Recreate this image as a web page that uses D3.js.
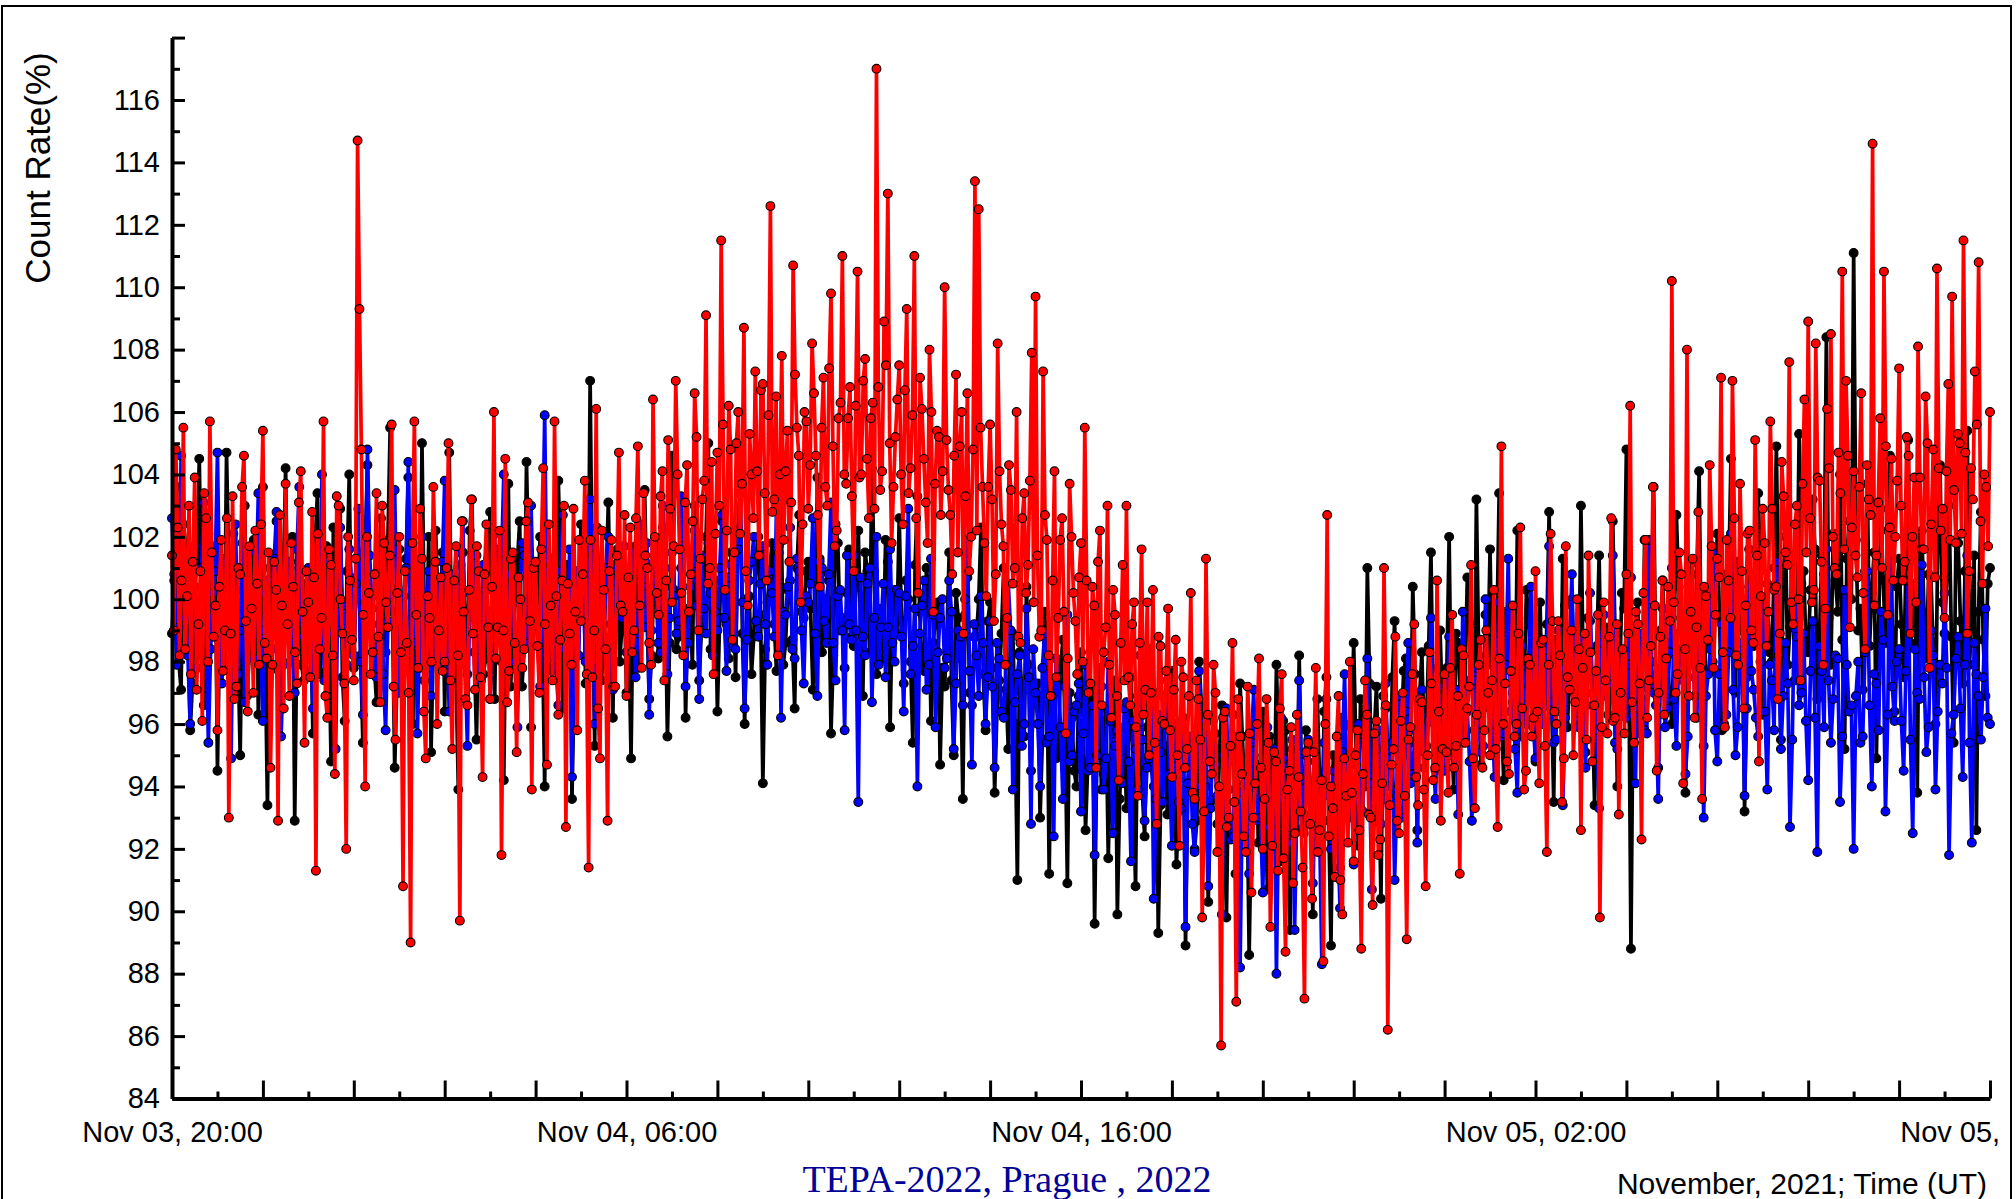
<!DOCTYPE html>
<html>
<head>
<meta charset="utf-8">
<script src="https://cdn.jsdelivr.net/npm/d3@7"></script>
<style>
  body { margin: 0; background: #fff; }
  text { font-family: "Liberation Sans", Arial, sans-serif; }
</style>
</head>
<body>
<div id="chart"></div>
<script>
// Series start time and sampling step (minutes)
const seriesStart = Date.UTC(2021, 10, 3, 20, 0);
const seriesEnd = Date.UTC(2021, 10, 5, 12, 0);
const redStep = 2.5, blackStep = 3, blueStep = 3;

// y axis ticks
const yMajorTicks = [84, 86, 88, 90, 92, 94, 96, 98, 100, 102, 104, 106, 108, 110, 112, 114, 116, 118];
const yMinorTicks = [85, 87, 89, 91, 93, 95, 97, 99, 101, 103, 105, 107, 109, 111, 113, 115, 117];

// count rate, red series (one row per hour)
const redValues = [
  101.4,99.0,104.8,102.3,98.2,100.6,105.5,98.4,100.1,103.0,97.6,101.2,103.9,97.1,99.2,100.9,96.1,103.4,102.6,98.0,105.7,101.5,98.8,99.8,
  95.8,100.4,101.9,97.7,99.0,102.6,93.0,98.9,103.3,96.8,97.2,101.0,100.8,103.6,104.6,99.3,96.4,101.7,99.7,97.0,102.2,100.5,97.9,102.4,
  105.4,98.6,98.1,101.5,94.6,97.9,101.2,100.3,92.9,102.7,99.8,96.5,103.7,99.2,96.9,101.8,100.4,98.3,97.3,103.1,104.1,99.6,95.4,100.9,
  99.9,97.5,102.8,100.7,91.3,102.1,98.4,99.4,105.7,96.9,96.2,101.6,101.1,98.2,94.4,103.3,103.0,100.0,98.9,97.3,92.0,102.0,100.6,98.7,
  97.4,101.3,114.7,109.3,104.8,99.5,94.0,102.0,100.2,97.6,98.3,100.8,103.4,98.8,96.7,103.0,101.8,99.9,99.1,101.4,105.6,97.2,95.5,100.2,
  102.0,98.3,90.8,100.9,98.6,97.0,89.0,101.8,105.7,99.5,97.8,102.9,101.3,96.4,94.9,100.1,99.4,98.0,103.6,101.2,96.0,99.0,100.7,97.7,
  98.0,101.0,105.0,97.4,95.2,100.6,101.7,98.2,89.7,102.5,99.6,96.8,96.6,100.3,103.2,98.9,97.1,101.7,100.9,97.5,94.3,100.8,102.4,99.1,
  96.8,100.4,106.0,98.1,99.1,102.2,91.8,99.0,104.5,96.7,97.7,101.3,101.5,98.6,95.1,100.7,100.0,97.8,98.4,102.5,103.1,99.3,93.9,101.0,
  101.2,98.5,97.0,101.6,104.2,99.2,94.7,102.4,99.8,97.4,105.7,100.1,96.3,98.7,100.6,103.0,92.7,100.5,98.9,97.9,102.9,99.6,95.8,101.9,
  99.3,100.8,103.8,97.6,91.4,101.9,97.5,99.0,106.1,96.5,94.9,102.2,100.3,98.4,92.9,100.9,101.9,97.2,97.2,101.4,104.7,99.8,99.6,102.7,
  96.9,100.7,102.3,98.3,99.0,102.6,104.9,99.8,97.8,103.4,101.4,101.0,98.6,97.9,106.4,102.0,100.2,99.5,103.3,104.1,97.4,100.6,105.1,102.9,
  99.9,101.7,107.0,104.0,101.6,100.2,98.2,103.1,104.3,99.6,100.8,102.5,106.6,105.2,99.0,101.3,103.2,103.8,109.1,100.5,101.0,104.4,97.6,102.1,
  104.7,103.0,111.5,105.6,100.3,102.2,106.2,104.8,98.7,101.5,105.0,106.0,102.1,103.7,108.7,100.9,99.8,105.3,104.0,102.6,107.3,104.1,101.4,106.7,
  106.9,103.4,100.6,105.9,112.6,102.8,103.2,106.5,98.2,104.0,107.8,101.9,104.1,105.4,101.2,103.1,110.7,107.2,105.5,104.6,99.9,102.4,106.0,105.7,
  102.9,104.3,108.2,106.6,104.6,102.7,100.4,105.5,107.1,103.6,103.0,107.4,109.8,104.9,101.7,102.2,105.8,106.3,111.0,104.0,103.7,105.8,106.8,103.3,
  100.9,106.2,110.5,103.9,104.0,107.0,107.7,104.5,102.6,105.8,106.3,102.9,117.0,106.8,103.5,104.1,108.9,107.5,113.0,105.0,101.8,103.6,105.2,106.4,
  107.5,104.0,102.4,106.7,109.3,103.4,104.2,105.9,111.0,102.6,100.2,107.1,106.1,104.5,103.1,101.8,108.0,106.0,99.6,103.7,105.4,105.2,102.7,104.1,
  110.0,105.1,103.5,102.7,100.8,104.6,107.2,101.5,104.9,106.0,98.9,103.3,106.6,100.9,102.0,104.8,113.4,102.2,112.5,105.5,103.6,101.8,100.1,103.6,
  105.6,103.2,99.3,100.8,108.2,104.1,102.4,101.7,97.9,99.4,104.3,103.5,100.5,101.0,106.0,98.8,98.6,102.6,103.4,100.2,101.1,103.8,107.9,99.9,
  109.7,101.4,98.8,99.0,107.3,102.7,101.9,98.2,96.9,100.6,104.1,97.5,99.4,101.9,102.6,99.6,95.7,98.1,103.7,102.0,100.2,99.3,97.6,100.7,
  101.8,98.0,105.5,100.6,97.0,97.3,100.4,99.8,94.6,101.2,102.2,96.6,98.3,99.1,103.0,97.9,96.2,100.3,99.5,96.9,94.2,98.6,101.1,97.4,
  103.0,97.5,96.6,99.2,99.9,95.9,93.7,98.6,101.6,96.3,97.1,99.9,95.0,97.0,100.3,95.4,92.8,98.8,98.5,96.1,96.0,97.7,99.7,95.8,
  94.3,97.1,98.7,95.0,92.1,98.0,97.5,94.6,95.2,96.9,100.2,93.8,93.6,97.4,96.8,95.5,89.8,93.2,101.3,96.3,94.8,94.4,97.9,97.0,
  91.9,94.0,85.7,96.2,96.4,92.7,93.0,95.3,98.6,93.5,87.1,96.8,95.6,94.4,92.4,91.9,97.2,95.7,90.6,93.0,94.1,96.0,98.1,94.6,
  92.0,93.6,96.8,95.4,89.5,92.1,95.1,94.8,91.3,96.5,97.6,91.7,88.7,93.9,94.5,95.9,90.9,92.5,96.3,94.3,93.2,91.4,87.2,95.1,
  95.4,92.8,90.4,95.1,97.8,91.9,92.6,94.2,88.4,96.0,102.7,92.4,94.0,93.3,91.1,95.6,96.9,91.0,89.9,94.9,93.7,92.2,98.0,93.8,
  91.6,95.0,95.8,92.6,88.8,94.4,97.4,96.3,93.1,93.0,90.2,95.7,96.1,91.8,92.3,94.1,101.0,96.6,86.2,93.4,94.7,95.2,98.8,92.9,
  92.5,96.1,97.0,93.7,89.1,95.5,95.9,97.6,99.2,94.3,93.4,96.8,96.7,93.9,90.8,95.0,98.3,97.3,94.2,94.6,100.6,96.4,92.9,95.2,
  97.6,95.1,93.8,97.8,99.5,94.6,95.3,96.9,91.2,98.4,98.2,95.4,96.5,97.2,101.1,94.9,93.3,96.3,97.9,98.7,94.6,95.8,99.0,97.0,
  95.0,97.4,100.3,95.2,92.7,98.1,104.9,96.0,97.3,94.8,94.4,97.7,99.8,95.6,96.0,98.9,102.3,96.5,93.9,94.5,98.1,97.9,95.6,96.2,
  100.9,96.4,94.1,98.6,98.7,95.3,91.9,97.9,102.1,99.3,96.4,96.0,99.3,98.2,93.5,94.9,101.7,97.5,97.1,99.0,95.0,96.7,100.0,98.4,
  92.6,97.8,98.9,95.5,101.4,98.3,94.8,96.6,97.7,99.5,89.8,95.9,99.9,97.4,95.7,98.8,102.6,96.1,96.2,99.2,93.1,97.0,98.4,95.7,
  100.8,98.9,106.2,96.7,95.4,99.6,99.2,97.3,92.3,100.2,101.9,96.2,97.4,98.5,103.6,99.8,94.5,97.0,98.8,100.6,96.3,98.1,100.4,99.3,
  110.2,99.9,97.0,97.6,101.5,100.8,94.1,98.4,108.0,96.9,99.6,101.3,96.2,99.1,102.8,97.8,93.6,100.4,100.1,98.7,104.3,101.7,97.8,99.5,
  101.3,100.7,107.1,98.3,95.9,101.9,100.6,99.4,107.0,102.6,98.2,97.9,103.7,100.9,96.5,99.8,102.1,102.2,99.0,98.6,105.1,101.4,94.8,100.1,
  102.9,101.8,98.5,99.6,105.7,102.9,100.3,100.4,96.8,98.9,104.4,103.3,101.5,101.1,107.6,99.9,99.2,102.4,103.0,100.0,97.4,103.7,106.4,101.5,
  108.9,102.6,99.9,100.3,108.2,103.9,103.8,101.2,97.9,99.7,106.1,104.2,108.5,102.0,101.0,100.8,104.7,103.4,110.5,101.6,107.0,104.6,99.1,102.3,
  104.1,101.4,100.7,103.6,106.6,100.2,98.4,104.3,103.2,102.7,114.6,99.8,101.4,103.1,105.8,101.0,110.5,104.9,99.5,102.3,104.5,100.6,102.0,103.8,
  107.4,103.0,100.6,101.2,105.2,104.6,98.9,102.0,103.9,99.9,108.1,103.9,101.6,101.6,106.5,105.0,97.8,102.4,104.8,100.7,110.6,104.2,102.2,102.9,
  99.4,104.1,106.9,101.9,109.7,103.5,101.8,105.3,105.0,102.1,111.5,104.7,98.9,100.9,104.2,103.2,107.3,105.6,110.8,102.5,100.5,104.0,103.6,101.7,
  106.0
];

// count rate, black series (one row per hour)
const blackValues = [
  98.9,100.6,103.6,98.0,97.1,102.4,101.8,99.5,95.8,97.3,100.4,101.2,104.5,99.9,96.6,98.6,102.1,100.8,99.0,101.7,
  94.5,99.2,101.3,97.8,104.7,100.9,97.5,102.1,100.6,98.5,95.0,100.3,103.0,96.9,98.2,99.7,101.9,101.4,96.3,98.9,
  103.6,98.3,93.4,101.0,99.7,99.6,102.5,97.7,96.9,100.7,104.2,98.8,98.0,102.0,92.9,99.1,101.0,97.9,97.4,100.5,
  100.8,99.4,95.7,101.8,103.4,97.6,98.6,100.2,101.7,98.7,94.8,102.3,99.9,99.0,102.9,97.5,96.1,100.9,104.0,98.4,
  97.8,100.7,101.4,98.2,95.4,101.6,104.3,99.3,99.2,97.9,96.7,100.4,102.6,98.9,98.3,101.9,105.5,99.6,94.6,97.4,
  101.6,99.8,97.0,101.3,103.9,98.1,96.0,100.6,100.7,97.8,105.0,99.5,98.5,102.0,95.1,98.7,102.2,100.1,99.4,101.5,
  96.4,100.9,104.7,98.6,99.6,97.5,93.9,101.1,101.5,99.4,97.6,102.2,103.2,98.3,95.5,100.0,100.1,97.6,98.1,101.3,
  102.8,99.1,96.8,101.6,100.9,98.0,94.2,100.4,103.7,97.2,98.8,99.9,101.2,102.5,97.2,98.4,104.4,100.7,95.9,99.3,
  99.3,100.2,102.0,98.9,94.0,101.4,100.5,97.7,97.9,99.6,103.8,101.0,96.5,98.1,101.1,100.8,93.6,97.3,99.8,99.9,
  102.4,101.5,97.3,98.5,107.0,99.8,95.3,102.3,100.2,97.4,98.7,100.6,103.1,99.2,96.2,101.1,101.6,98.0,99.1,100.3,
  97.0,98.9,94.9,100.7,101.7,97.8,99.3,101.2,103.5,99.5,96.8,98.2,100.4,101.9,98.1,99.0,102.3,100.4,95.6,98.6,
  104.6,100.3,98.4,98.8,101.0,101.6,96.2,99.7,99.6,97.9,103.0,100.9,97.4,99.1,100.8,102.0,105.0,98.4,98.9,100.6,
  96.4,99.4,102.5,101.2,99.2,98.1,101.5,100.5,97.5,102.2,103.7,98.9,96.0,100.0,100.1,97.6,98.8,101.3,102.0,99.5,
  94.1,98.4,99.9,100.8,101.8,99.2,97.7,101.7,103.2,97.9,98.6,100.3,100.6,98.7,96.5,101.0,102.7,99.6,99.4,100.9,
  101.2,99.7,97.1,98.5,103.9,101.3,98.3,99.0,100.0,100.6,95.7,98.2,102.4,101.8,99.0,99.4,97.8,100.2,101.6,98.8,
  98.5,100.4,102.2,99.0,96.9,101.5,100.9,98.3,104.2,100.9,97.6,99.6,99.7,98.1,101.9,101.2,95.9,99.8,100.3,98.9,
  102.6,99.3,97.3,100.6,100.0,98.0,95.4,101.1,103.3,99.6,98.0,97.7,101.0,100.2,96.1,98.6,99.5,99.9,94.7,97.8,
  97.2,98.9,101.5,97.4,95.0,100.2,99.4,98.1,93.6,99.5,100.7,97.0,96.6,98.8,98.8,100.0,102.3,97.6,95.8,99.3,
  99.9,97.8,93.8,96.4,97.4,98.9,101.0,97.1,95.2,99.0,98.9,96.0,91.0,98.3,97.0,95.6,100.4,97.9,94.5,96.8,
  96.8,97.3,93.0,95.5,99.6,98.2,91.2,96.6,97.4,94.9,95.1,97.8,98.7,95.9,90.9,97.0,96.2,94.5,94.0,96.9,
  98.3,96.0,92.6,94.8,96.7,97.1,89.6,95.3,97.8,93.9,94.4,96.5,91.7,94.9,96.0,97.4,89.9,93.6,95.5,95.9,
  93.3,95.6,97.5,94.3,90.8,96.9,96.3,93.8,92.4,95.9,98.4,94.6,94.0,97.0,89.3,93.4,96.9,95.3,93.1,96.4,
  97.7,94.9,91.5,93.2,95.6,96.2,88.9,94.1,94.9,95.5,92.0,92.9,98.0,96.6,93.6,94.0,90.3,93.5,96.1,95.7,
  92.8,95.2,96.6,93.6,89.8,94.8,95.3,96.3,91.2,92.8,97.3,95.6,93.9,94.3,88.6,93.1,95.0,96.0,92.2,94.7,
  96.4,94.1,90.7,95.6,93.4,93.0,97.9,94.9,91.6,96.1,95.8,93.4,89.4,95.2,94.3,92.6,98.2,94.4,92.7,95.8,
  95.2,93.9,89.9,95.3,96.8,94.2,92.5,96.4,97.5,92.9,88.9,95.0,94.6,93.7,91.4,96.2,96.0,94.6,93.0,95.9,
  98.6,95.1,92.1,96.8,95.9,94.0,101.0,97.3,93.7,95.6,97.2,94.4,90.4,96.9,96.5,95.2,94.1,97.5,99.3,96.0,
  93.3,96.0,97.7,98.1,95.0,95.4,100.4,97.6,92.6,96.9,98.3,95.1,96.0,98.5,101.5,96.3,94.5,97.8,99.0,96.6,
  96.2,97.8,102.0,96.0,93.9,98.9,98.6,96.7,95.4,97.4,100.7,99.2,97.4,95.8,103.2,98.2,94.7,96.5,99.5,97.9,
  101.6,97.0,96.4,98.9,103.4,96.3,94.2,99.6,99.1,97.8,97.0,96.1,102.2,98.6,95.6,97.2,100.3,99.4,98.1,96.8,
  94.8,98.3,99.9,96.5,96.7,99.2,102.8,97.1,93.5,98.7,98.4,96.4,101.3,99.8,95.9,97.5,100.0,98.1,97.3,96.9,
  103.0,97.6,95.1,99.4,99.3,96.6,93.4,98.5,101.4,97.0,97.8,99.1,96.3,96.8,102.5,98.9,94.0,97.3,100.2,99.7,
  104.8,98.6,88.8,97.4,99.0,99.9,95.7,96.8,101.9,98.3,97.1,100.1,103.6,97.2,94.6,99.0,100.6,98.1,98.2,96.9,
  96.0,98.9,102.7,100.4,99.4,97.6,93.8,99.5,101.1,98.0,97.5,100.8,104.1,97.9,95.3,99.3,100.0,98.6,98.0,100.2,
  102.1,99.4,95.8,97.9,100.8,100.6,104.5,98.6,97.0,101.2,99.7,99.0,93.2,97.5,101.6,100.3,98.5,98.8,103.4,100.9,
  96.3,99.9,100.5,98.3,98.0,101.0,104.9,99.5,95.5,100.7,102.0,97.9,99.1,101.4,97.4,99.2,105.3,100.5,100.9,98.6,
  98.3,100.3,103.2,101.6,96.8,98.9,101.4,100.8,108.4,99.4,97.9,102.1,100.6,99.6,104.0,98.7,95.2,101.3,102.5,100.0,
  111.1,101.9,99.0,99.7,97.1,100.9,103.7,98.5,100.2,101.5,94.9,99.1,102.9,100.6,98.6,102.2,104.6,99.0,96.4,100.4,
  101.3,99.2,97.5,101.1,105.1,98.6,99.4,100.5,93.8,102.0,102.2,99.5,98.1,100.8,100.7,98.4,96.0,101.6,104.3,99.9,
  98.9,100.7,103.0,98.8,95.4,101.9,101.8,99.3,97.3,100.9,105.4,97.9,99.5,101.4,92.6,99.6,102.8,98.7,96.9,100.5,
  101.0
];

// count rate, blue series (one row per hour)
const blueValues = [
  102.6,100.8,97.9,99.1,104.6,101.5,99.4,98.2,96.0,100.3,101.7,97.8,98.5,101.0,103.1,99.6,95.4,98.4,100.2,100.9,
  104.7,99.7,97.3,101.2,100.9,98.0,94.9,100.6,102.4,97.6,99.0,101.8,96.7,99.3,101.5,98.7,98.1,100.4,103.4,99.0,
  96.1,100.2,100.6,98.5,98.4,101.3,102.8,99.0,95.6,97.9,99.9,100.7,101.2,98.6,97.0,101.6,103.6,99.4,98.8,97.7,
  101.0,98.8,96.5,100.9,99.6,99.5,104.0,97.4,97.7,101.2,100.8,98.9,95.2,100.3,102.3,99.8,98.9,97.9,101.6,100.6,
  98.2,100.5,102.9,98.0,96.3,99.9,104.8,101.4,99.7,98.7,97.5,100.1,101.9,97.6,95.8,99.3,100.4,101.8,103.5,98.9,
  97.0,99.4,100.1,101.0,104.4,98.3,98.6,100.7,95.7,99.1,102.0,97.4,99.3,100.9,96.9,98.5,101.2,99.8,98.0,101.2,
  103.8,99.0,96.4,100.8,100.7,98.2,98.3,101.5,102.5,97.9,95.3,100.2,99.8,99.4,101.4,98.1,97.4,101.1,100.3,99.6,
  96.8,100.3,102.1,98.7,99.0,101.2,104.0,99.5,97.8,100.8,100.6,98.0,95.9,99.9,101.8,101.4,98.5,98.6,103.0,100.0,
  99.6,98.5,97.2,101.1,105.9,99.3,98.7,100.2,101.3,97.8,96.6,100.9,102.7,98.4,99.2,101.6,94.3,99.1,100.9,98.2,
  101.9,100.6,98.0,99.2,103.2,101.4,96.0,98.3,100.5,99.7,98.4,101.0,102.0,98.8,97.1,100.3,101.0,99.5,99.4,101.7,
  98.3,99.7,100.8,101.5,97.5,98.9,102.4,100.4,99.1,101.8,96.3,99.0,101.2,100.6,98.6,98.3,103.0,101.0,97.6,99.4,
  101.5,100.1,98.9,99.3,103.3,101.7,97.2,98.6,100.4,100.9,102.2,99.8,96.8,101.4,99.7,98.9,101.8,100.2,98.2,99.6,
  99.0,101.0,102.7,99.4,97.7,100.7,101.1,98.5,98.4,101.6,103.4,99.9,96.5,98.7,100.6,101.2,102.0,99.3,98.8,100.5,
  101.7,99.2,97.9,100.9,100.2,98.8,103.0,101.5,96.2,99.6,99.5,100.4,102.3,98.4,98.1,101.3,100.9,99.0,97.3,100.1,
  99.9,100.5,102.6,98.9,96.9,101.2,101.0,99.3,98.6,100.8,103.1,98.6,97.4,100.1,100.3,99.0,95.8,101.4,99.2,98.7,
  101.4,99.0,93.5,100.7,98.8,98.2,100.5,101.0,96.7,99.4,102.0,97.9,99.1,100.5,97.5,99.1,101.6,98.6,98.0,100.3,
  100.2,98.8,96.4,100.1,102.9,97.6,98.5,99.7,94.0,98.9,99.8,100.6,97.1,97.9,101.3,99.5,95.9,98.3,99.4,100.0,
  97.8,98.1,100.6,99.6,95.2,97.3,99.0,98.8,96.6,100.0,101.8,97.7,94.7,99.2,98.2,96.9,100.1,98.6,96.0,97.5,
  99.3,97.2,94.6,98.6,98.1,96.4,96.2,97.9,100.5,99.0,93.9,96.7,97.6,98.2,95.3,96.0,99.7,97.5,92.8,98.4,
  97.0,96.0,94.0,97.8,98.9,95.4,95.6,96.9,92.4,98.1,97.5,95.9,93.6,97.2,99.5,94.8,95.0,96.4,96.6,97.3,
  93.2,95.7,97.9,94.5,94.6,96.6,91.8,95.0,96.9,97.2,93.9,94.9,98.0,96.1,92.5,95.3,95.8,94.2,94.1,96.5,
  96.7,94.8,91.6,96.1,95.2,93.9,98.2,95.5,92.9,94.6,94.9,96.7,90.4,93.6,96.3,95.1,93.5,96.2,97.4,94.4,
  92.1,94.9,96.0,93.5,93.3,95.8,89.5,94.1,95.6,92.8,91.9,95.2,97.7,94.0,94.2,96.1,90.8,93.3,95.3,94.7,
  93.7,93.2,89.9,95.0,96.5,93.9,92.3,92.4,95.0,95.6,88.2,93.8,94.1,92.9,91.2,95.4,97.1,94.1,92.9,93.0,
  90.6,94.4,95.9,92.7,93.1,95.2,88.0,93.6,96.2,94.9,91.7,92.2,94.7,95.5,89.4,93.4,97.4,94.2,92.5,95.0,
  95.5,93.1,90.9,94.8,93.8,92.6,88.3,95.4,96.8,93.7,92.0,94.5,94.5,92.3,90.1,95.1,97.6,93.5,93.4,94.2,
  91.5,94.7,96.0,93.3,93.2,95.6,98.1,94.1,90.7,92.9,95.2,95.8,92.8,93.6,97.3,94.9,94.0,95.4,91.0,93.7,
  96.9,95.2,93.0,96.4,98.6,94.1,94.4,95.8,92.2,96.9,97.1,94.6,95.3,96.1,99.4,95.0,93.6,97.2,96.2,95.5,
  94.5,96.3,98.8,95.0,95.9,97.1,93.1,95.6,99.6,96.8,96.4,94.8,92.9,97.4,97.8,96.0,95.1,95.3,100.0,96.9,
  97.2,96.0,94.3,97.5,99.9,95.6,95.7,97.9,101.3,96.4,96.7,95.2,93.8,97.2,98.5,96.6,96.0,98.0,100.4,95.9,
  94.9,97.4,98.3,96.0,96.6,98.1,101.7,96.7,95.4,95.5,99.0,97.8,93.4,96.2,97.9,98.4,100.8,97.0,96.1,95.9,
  98.7,96.5,94.6,98.2,100.2,97.0,96.8,95.8,93.3,98.6,99.5,96.9,97.3,97.7,101.4,95.4,95.2,97.3,98.0,98.0,
  96.2,97.9,100.7,96.3,94.1,98.5,98.9,97.2,95.8,95.7,101.9,98.0,97.0,96.6,93.6,97.8,99.7,95.9,96.5,98.3,
  101.0,96.8,95.3,98.1,98.4,97.4,94.4,95.6,100.1,98.7,96.9,96.2,99.0,97.9,93.0,96.9,97.6,98.4,101.5,95.8,
  94.8,97.6,99.2,96.0,96.3,98.3,102.1,97.1,95.0,95.9,98.1,98.6,93.7,96.5,100.4,97.7,97.1,96.2,95.6,98.0,
  99.8,96.4,93.9,97.9,97.4,95.8,101.2,98.2,95.2,96.9,98.6,97.3,92.7,95.5,100.0,98.8,96.6,97.0,98.9,96.1,
  94.2,97.7,99.3,96.2,91.9,98.5,97.7,95.9,101.6,97.4,95.4,96.8,98.2,98.1,93.5,95.6,100.3,97.9,96.4,96.6,
  92.0,96.9,98.0,95.4,95.6,98.3,100.9,96.6,94.0,97.6,97.3,95.8,99.6,98.7,93.2,96.3,102.2,97.2,96.1,98.0,
  98.4,96.1,94.5,97.7,100.6,95.5,92.5,98.4,97.0,96.8,101.1,97.5,95.1,95.9,99.0,98.2,93.9,96.4,97.9,97.3,
  100.2,97.8,91.8,95.7,96.3,98.1,98.8,96.5,94.3,97.9,101.4,95.4,92.2,98.6,97.6,96.9,95.5,97.5,99.7,96.2,
  96.0
];

const W = 2016, H = 1199;

const svg = d3.select("#chart")
  .append("svg")
    .attr("width", W)
    .attr("height", H);

// clip everything to the inside of the frame
svg.append("defs").append("clipPath")
    .attr("id", "frameClip")
  .append("rect")
    .attr("x", 0).attr("y", 0)
    .attr("width", 2010).attr("height", H);

const g = svg.append("g").attr("clip-path", "url(#frameClip)");

// scales
const x = d3.scaleUtc()
  .domain([new Date(seriesStart), new Date(seriesEnd)])
  .range([172, 1990]);

const y = d3.scaleLinear()
  .domain([84, 118])
  .range([1098.5, 37.6]);

const toPoints = (values, step) =>
  values.map((v, i) => ({ t: new Date(seriesStart + i * step * 60000), v: v }));

const line = d3.line()
  .x(d => x(d.t))
  .y(d => y(d.v));

function drawSeries(values, step, color) {
  const pts = toPoints(values, step);
  const s = g.append("g");
  s.append("path")
    .datum(pts)
    .attr("d", line)
    .attr("fill", "none")
    .attr("stroke", color)
    .attr("stroke-width", 3.7)
    .attr("stroke-linejoin", "round");
  s.selectAll("circle")
    .data(pts)
    .enter()
    .append("circle")
      .attr("cx", d => x(d.t))
      .attr("cy", d => y(d.v))
      .attr("r", 4.4)
      .attr("fill", color)
      .attr("stroke", "#000")
      .attr("stroke-width", 1.1);
}

drawSeries(blackValues, blackStep, "#000000");
drawSeries(blueValues, blueStep, "#0000ff");
drawSeries(redValues, redStep, "#ff0000");

// y axis, major and minor ticks pointing inside
const yAxis = g.append("g")
  .attr("transform", "translate(172,0)")
  .call(d3.axisLeft(y)
    .tickValues(yMajorTicks)
    .tickSizeInner(-13)
    .tickSizeOuter(0)
    .tickPadding(12)
    .tickFormat(d => d === 118 ? "" : d));
yAxis.select(".domain").attr("stroke-width", 4);
yAxis.selectAll(".tick line").attr("stroke-width", 3);
yAxis.selectAll("text")
  .attr("font-size", 29)
  .attr("font-family", "Liberation Sans, Arial, sans-serif")
  .attr("fill", "#000");

g.append("g")
  .attr("transform", "translate(172,0)")
  .call(d3.axisLeft(y)
    .tickValues(yMinorTicks)
    .tickSizeInner(-8)
    .tickSizeOuter(0)
    .tickFormat(""))
  .call(a => a.select(".domain").remove())
  .selectAll(".tick line").attr("stroke-width", 3);

// x axis: major every 2 hours, labels every 10 hours, minor every hour
const hour = 3600000;
const xMajor = d3.range(seriesStart, seriesEnd + 1, 2 * hour).map(t => new Date(t));
const xMinor = d3.range(seriesStart + hour, seriesEnd, 2 * hour).map(t => new Date(t));
const fmt = d3.utcFormat("%b %d, %H:%M");

const xAxis = g.append("g")
  .attr("transform", "translate(0,1098.5)")
  .call(d3.axisBottom(x)
    .tickValues(xMajor)
    .tickSizeInner(-18)
    .tickSizeOuter(0)
    .tickPadding(23)
    .tickFormat(d => ((d - seriesStart) / hour) % 10 === 0 ? fmt(d) : ""));
xAxis.select(".domain").attr("stroke-width", 4);
xAxis.selectAll(".tick line").attr("stroke-width", 3);
xAxis.selectAll("text")
  .attr("font-size", 29)
  .attr("font-family", "Liberation Sans, Arial, sans-serif")
  .attr("fill", "#000");

g.append("g")
  .attr("transform", "translate(0,1098.5)")
  .call(d3.axisBottom(x)
    .tickValues(xMinor)
    .tickSizeInner(-7)
    .tickSizeOuter(0)
    .tickFormat(""))
  .call(a => a.select(".domain").remove())
  .selectAll(".tick line").attr("stroke-width", 3);

// axis titles
g.append("text")
  .attr("transform", "translate(50,168) rotate(-90)")
  .attr("text-anchor", "middle")
  .attr("font-size", 35)
  .text("Count Rate(%)");

g.append("text")
  .attr("x", 1987)
  .attr("y", 1194)
  .attr("text-anchor", "end")
  .attr("font-size", 30)
  .text("November, 2021; Time (UT)");

g.append("text")
  .attr("x", 1007)
  .attr("y", 1192)
  .attr("text-anchor", "middle")
  .style("font-family", "'Liberation Serif', 'Times New Roman', serif")
  .attr("font-size", 38)
  .attr("fill", "#000096")
  .text("TEPA-2022, Prague , 2022");

// frame
svg.append("rect")
  .attr("x", 2)
  .attr("y", 6)
  .attr("width", 2009)
  .attr("height", H + 10)
  .attr("fill", "none")
  .attr("stroke", "#000")
  .attr("stroke-width", 2);
</script>
</body>
</html>
